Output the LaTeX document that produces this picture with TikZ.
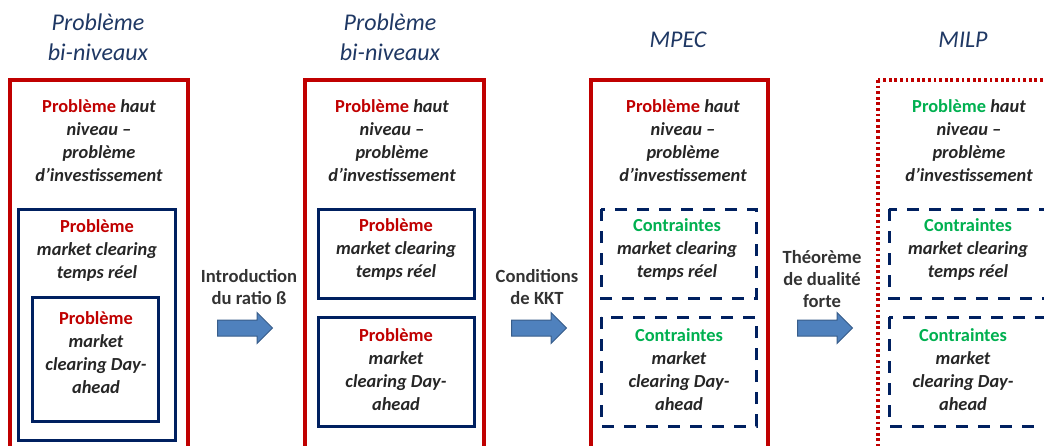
\documentclass[tikz,border=0pt]{standalone}
\usepackage{fontspec}
\setmainfont{Carlito}
\usetikzlibrary{shapes.arrows}
\definecolor{rouge}{RGB}{192,0,0}
\definecolor{marine}{RGB}{0,32,96}
\definecolor{vert}{RGB}{0,176,80}
\definecolor{titre}{RGB}{31,56,100}
\definecolor{fleche}{RGB}{79,129,189}
\definecolor{flechebord}{RGB}{56,93,138}
\newcommand{\rpb}{{\color{rouge}\upshape Problème}}
\newcommand{\vpb}{{\color{vert}\upshape Problème}}
\newcommand{\vct}{{\color{vert}\upshape Contraintes}}

\begin{document}
\begin{tikzpicture}[x=0.5pt,y=-0.5pt]
\tikzset{
  redbox/.style={draw=rouge,line width=1.6pt},
  reddot/.style={draw=rouge,line width=1.6pt,dash pattern=on 1.4pt off 1.4pt},
  navybox/.style={draw=marine,line width=1.5pt},
  navydash/.style={draw=marine,line width=1.5pt,dash pattern=on 6pt off 5pt},
  boxtxt/.style={align=center,inner sep=0pt,font=\fontsize{9.2}{11.5}\selectfont\bfseries\itshape,text=black!85},
  ttl/.style={align=center,inner sep=0pt,font=\fontsize{12}{15}\selectfont\itshape,text=titre},
  lbl/.style={align=center,inner sep=0pt,font=\fontsize{9.3}{11}\selectfont\bfseries,text=black!80},
  blockarrow/.style={single arrow,fill=fleche,draw=flechebord,line width=0.5pt,
    minimum height=27.5pt,inner sep=3.75pt,single arrow head extend=3.75pt}
}
\clip (0,0) rectangle (1044,445);

% titles
\node[ttl] (t1) at (98,37) {Problème\\bi-niveaux};
\node[ttl] (t2) at (390,37) {Problème\\bi-niveaux};
\node[ttl] (t3) at (678,40) {MPEC};
\node[ttl] (t4) at (963,40) {MILP};

% column 1
\draw[redbox] (10,80) rectangle (188,452);
\draw[navybox] (18,209) rectangle (175,440);
\draw[navybox] (32,297) rectangle (158,421);
\node[boxtxt] (h1) at (99,141) {\rpb{} haut\\niveau –\\problème\\d’investissement};
\node[boxtxt] (r1) at (97,250) {\rpb\\market clearing\\temps réel};
\node[boxtxt] (d1) at (96,353) {\rpb\\market\\clearing Day-\\ahead};

% column 2
\draw[redbox] (305,80) rectangle (484,452);
\draw[navybox] (318,209) rectangle (474,298);
\draw[navybox] (318,317) rectangle (474,426);
\node[boxtxt] (h2) at (392,141) {\rpb{} haut\\niveau –\\problème\\d’investissement};
\node[boxtxt] (r2) at (396,249) {\rpb\\market clearing\\temps réel};
\node[boxtxt] (d2) at (396,370) {\rpb\\market\\clearing Day-\\ahead};

% column 3
\draw[redbox] (591,80) rectangle (768,452);
\draw[navydash] (601,209) rectangle (756,298);
\draw[navydash] (601,317) rectangle (756,426);
\node[boxtxt] (h3) at (683,141) {\rpb{} haut\\niveau –\\problème\\d’investissement};
\node[boxtxt] (r3) at (677,249) {\vct\\market clearing\\temps réel};
\node[boxtxt] (d3) at (679,370) {\vct\\market\\clearing Day-\\ahead};

% column 4
\draw[reddot] (878,80) rectangle (1070,452);
\draw[navydash] (889,209) rectangle (1046,298);
\draw[navydash] (889,317) rectangle (1046,426);
\node[boxtxt] (h4) at (969,141) {\vpb{} haut\\niveau –\\problème\\d’investissement};
\node[boxtxt] (r4) at (968,249) {\vct\\market clearing\\temps réel};
\node[boxtxt] (d4) at (963,370) {\vct\\market\\clearing Day-\\ahead};

% arrows between columns
\node[lbl] (l1) at (249,287) {Introduction\\du ratio ß};
\node[blockarrow] (a1) at (241,328) {};
\node[lbl] (l2) at (537,287) {Conditions\\de KKT};
\node[blockarrow] (a2) at (535,328) {};
\node[lbl] (l3) at (822,279) {Théorème\\de dualité\\forte};
\node[blockarrow] (a3) at (821,328) {};
\end{tikzpicture}
\end{document}
